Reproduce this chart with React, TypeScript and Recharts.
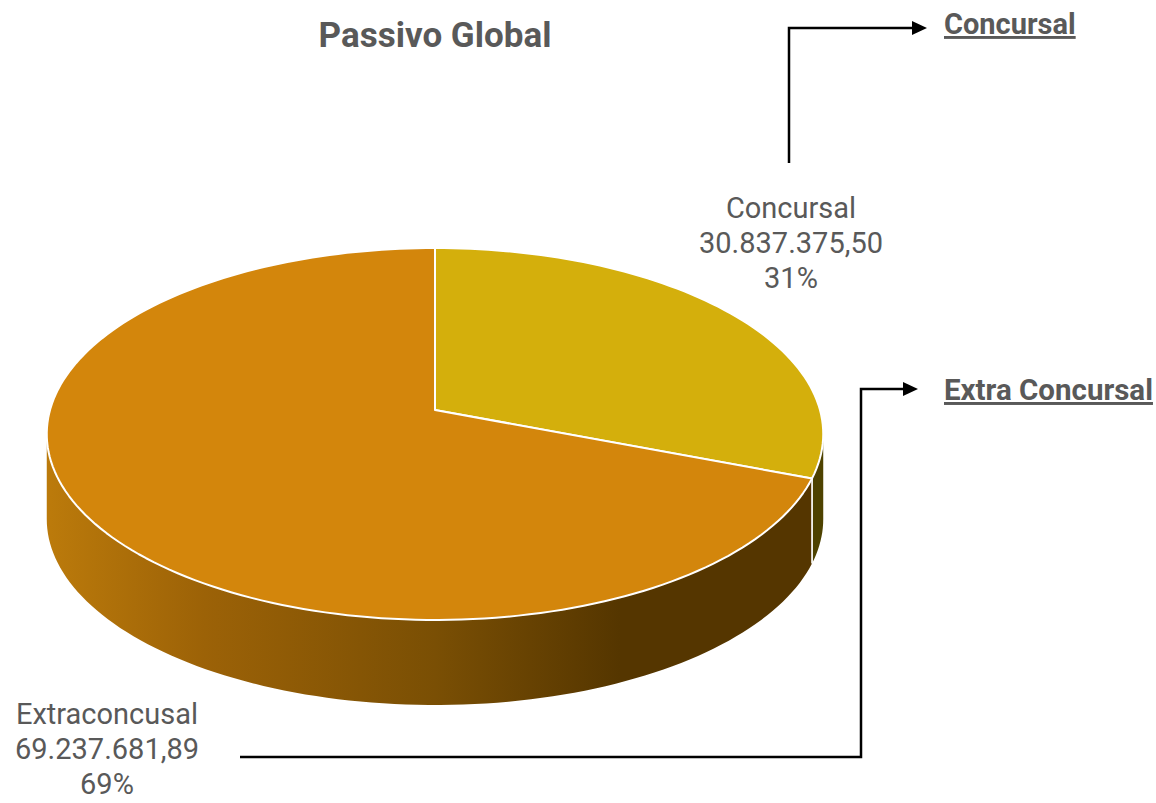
import React from 'react';
import { PieChart, Pie, Cell } from 'recharts';

const categories = ['Concursal', 'Extraconcusal'];
const values = [30837375.5, 69237681.89];
const legendLabels = ['Concursal', 'Extra Concursal'];
const chartTitle = 'Passivo Global';

const topColors = ['#D4AF0C', '#D3860C'];
const wallColorsByIndex = [
  [['0%', '#4E4200'], ['100%', '#4E4200']],
  [['0%', '#BB7A0B'], ['20%', '#9C6207'], ['50%', '#7A4F04'], ['74%', '#553600'], ['100%', '#553600']],
];

const data = categories.map((name, i) => ({ name, value: values[i] }));
const total = values.reduce((a, b) => a + b, 0);

const K = 0.129;
const SY = 0.475;
const DEPTH = 0.221;
const TEXT = '#595959';
const FONT = 'Roboto, "Noto Sans", sans-serif';

function fmtBR(n: number) {
  const [i, d] = n.toFixed(2).split('.');
  return i.replace(/\B(?=(\d{3})+(?!\d))/g, '.') + ',' + d;
}

function proj(cx: number, cy: number, R: number, phiDeg: number): [number, number] {
  const p = (phiDeg * Math.PI) / 180;
  const u = Math.cos(p);
  const v = Math.sin(p);
  const w = 1 + K * v;
  return [cx + (R * u) / w, cy - (R * SY * v) / w];
}

function sampleArc(cx: number, cy: number, R: number, a: number, b: number, dy = 0) {
  const n = Math.max(8, Math.ceil(Math.abs(b - a) / 1.5));
  const pts: string[] = [];
  for (let i = 0; i <= n; i++) {
    const ang = a + ((b - a) * i) / n;
    const [x, y] = proj(cx, cy, R, ang);
    pts.push(`${x.toFixed(2)},${(y + dy).toFixed(2)}`);
  }
  return pts;
}

function visibleRanges(s: number, e: number): [number, number][] {
  const lo = Math.min(s, e);
  const hi = Math.max(s, e);
  const vs = (Math.asin(K) * 180) / Math.PI;
  const out: [number, number][] = [];
  for (let k = -2; k <= 2; k++) {
    const a = -180 + vs + 360 * k;
    const b = -vs + 360 * k;
    const L = Math.max(lo, a);
    const H = Math.min(hi, b);
    if (H > L) out.push([L, H]);
  }
  return out;
}

const SliceShape = (props: any) => {
  const { cx, cy, outerRadius, startAngle, endAngle, fill, index } = props;
  const idx = typeof index === 'number' ? index : categories.indexOf(props.name ?? props.payload?.name);
  const R = outerRadius;
  const D = R * DEPTH;
  const gid = `wallGrad${idx}`;
  const stops = wallColorsByIndex[idx] || wallColorsByIndex[1];
  const walls = visibleRanges(startAngle, endAngle);
  const top = sampleArc(cx, cy, R, startAngle, endAngle);
  const seam = (ang: number) => {
    const vs = (Math.asin(K) * 180) / Math.PI;
    const a = ((ang % 360) + 360) % 360;
    if (a > 180 + vs && a < 360 - vs) {
      const [x, y] = proj(cx, cy, R, ang);
      return <line x1={x} y1={y} x2={x} y2={y + D} stroke="#FFFFFF" strokeWidth={1.5} />;
    }
    return null;
  };
  return (
    <g>
      <defs>
        <linearGradient id={gid} gradientUnits="userSpaceOnUse" x1={cx - R} y1={0} x2={cx + R} y2={0}>
          {stops.map(([o, c]) => (
            <stop key={o} offset={o} stopColor={c} />
          ))}
        </linearGradient>
      </defs>
      {walls.map(([a, b], i) => {
        const upper = sampleArc(cx, cy, R, a, b);
        const lower = sampleArc(cx, cy, R, b, a, D);
        return <polygon key={i} points={[...upper, ...lower].join(' ')} fill={`url(#${gid})`} stroke="none" />;
      })}
      {seam(startAngle)}
      {seam(endAngle)}
      <path
        d={`M${cx},${cy} L${top.join(' L')} Z`}
        fill={fill}
        stroke="#FFFFFF"
        strokeWidth={2}
        strokeLinejoin="round"
      />
    </g>
  );
};

const labelPos = [
  { x: 791, y: 218 },
  { x: 107, y: 724 },
];

const renderLabel = (props: any) => {
  const { index, value } = props;
  const p = labelPos[index];
  const pct = Math.round((value / total) * 100);
  return (
    <text x={p.x} y={p.y} textAnchor="middle" fill={TEXT} fontSize={29} fontFamily={FONT}>
      <tspan x={p.x} dy={0}>{categories[index]}</tspan>
      <tspan x={p.x} dy={35}>{fmtBR(value)}</tspan>
      <tspan x={p.x} dy={35}>{pct}%</tspan>
    </text>
  );
};

export default function App() {
  return (
    <div style={{ position: 'absolute', left: 0, top: 0, width: 1156, height: 803, background: '#fff' }}>
      <PieChart width={1156} height={803} margin={{ top: 0, right: 0, bottom: 0, left: 0 }}>
        <Pie
          data={data}
          dataKey="value"
          nameKey="name"
          cx={435}
          cy={410}
          outerRadius={385}
          startAngle={90}
          endAngle={-270}
          stroke="#FFFFFF"
          isAnimationActive={false}
          shape={SliceShape}
          label={renderLabel}
          labelLine={false}
        >
          {data.map((d, i) => (
            <Cell key={d.name} fill={topColors[i]} />
          ))}
        </Pie>
      </PieChart>
      <svg
        width={1156}
        height={803}
        style={{ position: 'absolute', left: 0, top: 0, pointerEvents: 'none' }}
      >
        <text x={435} y={47} textAnchor="middle" fill={TEXT} fontSize={35} fontWeight={700} fontFamily={FONT}>
          {chartTitle}
        </text>
        <polyline points="789,163 789,28 913,28" fill="none" stroke="#000" strokeWidth={2.5} />
        <polygon points="912,21 927,28 912,35" fill="#000" />
        <text x={944} y={34} fill={TEXT} fontSize={29} fontWeight={700} fontFamily={FONT} textDecoration="underline">
          {legendLabels[0]}
        </text>
        <polyline points="240,757 861,757 861,389 904,389" fill="none" stroke="#000" strokeWidth={2.5} />
        <polygon points="903,382 918,389 903,396" fill="#000" />
        <text x={944} y={400} fill={TEXT} fontSize={29.5} fontWeight={700} fontFamily={FONT} textDecoration="underline">
          {legendLabels[1]}
        </text>
      </svg>
    </div>
  );
}
